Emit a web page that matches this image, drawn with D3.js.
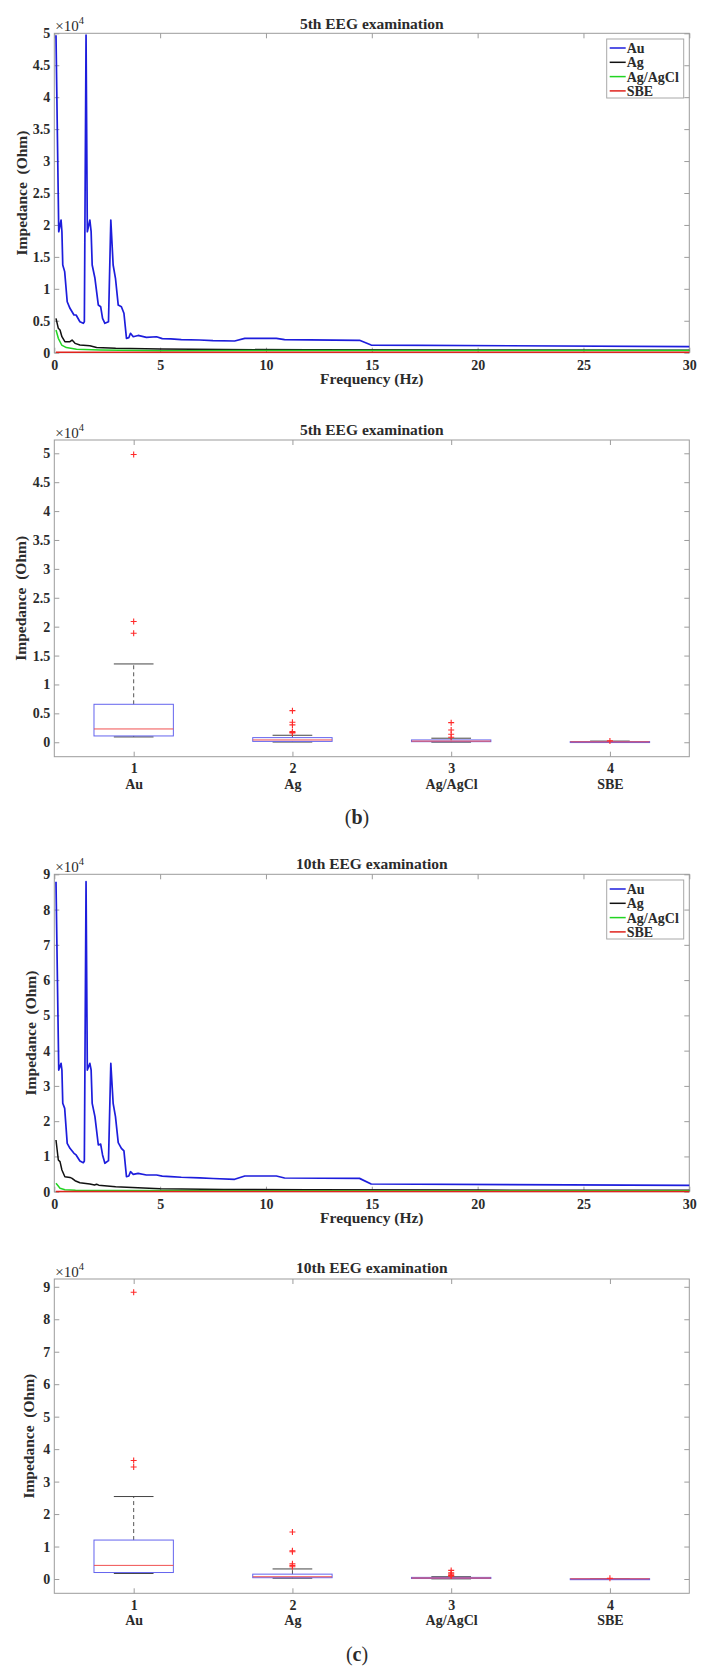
<!DOCTYPE html>
<html>
<head>
<meta charset="utf-8">
<script src="https://cdn.jsdelivr.net/npm/d3@7"></script>
<style>
body { margin: 0; background: #fff; }
svg text { font-family: "Liberation Serif", "DejaVu Serif", serif; fill: #2b2b2b; }
.tick text { font-weight: bold; font-size: 14px; }
.title { font-weight: bold; font-size: 15.5px; }
.label { font-weight: bold; font-size: 15.5px; }
.legend text { font-weight: bold; font-size: 14px; }
</style>
</head>
<body>
<svg id="fig" width="705" height="1672"></svg>
<script>
var names  = ['Au', 'Ag', 'Ag/AgCl', 'SBE'];
var colors = ['#1d1ddc', '#111111', '#22d422', '#e0231d'];
var freqTicks = [0, 5, 10, 15, 20, 25, 30];

/* 5th examination: impedance vs frequency */
var au5F = [0.08, 0.21, 0.32, 0.36, 0.40, 0.49, 0.61, 0.74, 0.93, 1.03, 1.21, 1.37, 1.42, 1.50, 1.56, 1.68, 1.74, 1.79, 1.92, 2.08, 2.19, 2.28, 2.39, 2.56, 2.67, 2.78, 2.89, 3.02, 3.17, 3.29, 3.41, 3.52, 3.60, 3.73, 3.96, 4.35, 4.83, 5.10, 5.5, 6.0, 6.87, 7.5, 8.52, 9.0, 10.49, 10.88, 14.42, 14.97, 30];
var au5  = [49700, 18940, 20770, 18940, 13730, 12690, 7980, 6950, 5900, 5900, 4850, 4600, 4850, 49700, 18940, 20770, 18940, 13730, 11650, 7460, 7200, 5380, 4600, 4850, 20770, 13730, 11650, 7460, 7200, 6170, 2250, 2350, 3040, 2500, 2700, 2400, 2500, 2200, 2150, 2050, 1990, 1900, 1830, 2250, 2250, 2040, 1940, 1200, 940];
var ag5F = [0.08, 0.19, 0.27, 0.36, 0.50, 0.74, 0.84, 0.98, 1.21, 1.68, 2.0, 2.9, 5.0, 8, 12, 20, 30];
var ag5  = [5380, 3820, 3560, 2500, 1720, 1720, 1980, 1460, 1200, 1100, 800, 680, 580, 500, 450, 420, 400];
var agcl5F = [0.08, 0.19, 0.35, 0.57, 1.05, 2.15, 5.0, 10, 20, 30];
var agcl5  = [3550, 2250, 1200, 800, 540, 440, 320, 330, 350, 350];
var sbe5F = [0.08, 5, 15, 30];
var sbe5  = [80, 70, 70, 60];

/* 10th examination: impedance vs frequency */
var au10F = au5F;
var au10  = [87900, 34500, 36400, 34500, 25060, 23640, 13720, 12300, 10890, 10420, 8700, 8230, 8700, 87900, 34500, 36400, 34500, 25060, 21300, 13240, 13500, 10420, 8060, 8800, 36400, 25060, 21300, 13900, 12300, 11560, 4250, 4440, 5670, 4910, 5200, 4730, 4730, 4440, 4300, 4100, 3900, 3750, 3520, 4450, 4450, 3880, 3780, 2180, 1800];
var ag10F = [0.08, 0.19, 0.27, 0.36, 0.50, 0.74, 0.84, 0.98, 1.21, 1.68, 1.9, 2.0, 2.1, 2.9, 5.0, 8, 12, 20, 30];
var ag10  = [14660, 8990, 8520, 6150, 4250, 4060, 3780, 3120, 2550, 2170, 1900, 2100, 1850, 1420, 850, 650, 520, 450, 400];
var agcl10F = [0.08, 0.27, 0.5, 1, 3, 10, 30];
var agcl10  = [2380, 1000, 530, 400, 330, 300, 300];
var sbe10F = [0.08, 30];
var sbe10  = [60, 50];

/* box plot statistics: Au, Ag, Ag/AgCl, SBE */
var q1_5  = [1090, 150, 100, 30];
var med5  = [2300, 400, 200, 70];
var q3_5  = [6570, 800, 400, 120];
var lo5   = [920, 40, 20, 10];
var hi5   = [13550, 1210, 700, 200];
var out5  = [[49800, 20900, 18850], [5470, 3460, 3000, 1850, 1700, 1600], [3390, 2130, 1380, 870], [230]];

var q1_10 = [2000, 400, 150, 30];
var med10 = [4200, 700, 300, 60];
var q3_10 = [12000, 1500, 500, 100];
var lo10  = [1700, 250, 50, 10];
var hi10  = [25400, 3100, 700, 150];
var out10 = [[88300, 36500, 34500], [14500, 8700, 8400, 4700, 4200, 3800], [2650, 1900, 1500, 1100, 900], [200]];

var svg = d3.select('#fig');

function frame(g, x, y, o, xvals, yvals, xfmt, yfmt) {
    var gray = '#9c9c9c';
    g.append('rect')
     .attr('x', o.left).attr('y', o.top)
     .attr('width', o.right - o.left).attr('height', o.bottom - o.top)
     .attr('fill', 'none').attr('stroke', gray);

    var ax = [
        g.append('g').attr('transform', 'translate(0,' + o.bottom + ')')
         .call(d3.axisBottom(x).tickValues(xvals).tickSizeInner(-5).tickSizeOuter(0).tickPadding(o.xpad).tickFormat(xfmt)),
        g.append('g').attr('transform', 'translate(0,' + o.top + ')')
         .call(d3.axisTop(x).tickValues(xvals).tickSizeInner(-5).tickSizeOuter(0).tickFormat('')),
        g.append('g').attr('transform', 'translate(' + o.left + ',0)')
         .call(d3.axisLeft(y).tickValues(yvals).tickSizeInner(-5).tickSizeOuter(0).tickPadding(4).tickFormat(yfmt)),
        g.append('g').attr('transform', 'translate(' + o.right + ',0)')
         .call(d3.axisRight(y).tickValues(yvals).tickSizeInner(-5).tickSizeOuter(0).tickFormat(''))
    ];
    ax.forEach(function (a) {
        a.attr('font-family', null).attr('font-size', null);
        a.select('.domain').remove();
        a.selectAll('.tick line').attr('stroke', gray);
        a.selectAll('.tick text').attr('fill', '#2b2b2b');
    });

    var ex = g.append('text').attr('x', o.left + 1).attr('y', o.top - 2)
              .attr('font-size', 15).attr('fill', '#444');
    ex.append('tspan').text('\u00d710');
    ex.append('tspan').attr('dy', -7).attr('font-size', 10.5).text('4');

    g.append('text').attr('class', 'title')
     .attr('x', (o.left + o.right) / 2).attr('y', o.titleY)
     .attr('text-anchor', 'middle').text(o.title);

    g.append('text').attr('class', 'label')
     .attr('transform', 'translate(' + o.ylabX + ',' + ((o.top + o.bottom) / 2) + ') rotate(-90)')
     .attr('text-anchor', 'middle').attr('dy', '0.35em')
     .text('Impedance\u00a0 (Ohm)');
    return ax;
}

function tenK(d) { return d / 1e4; }

function lineChart(o, series) {
    var g = svg.append('g');
    var x = d3.scaleLinear().domain([0, 30]).range([o.left, o.right]);
    var y = d3.scaleLinear().domain([0, o.ymax]).range([o.bottom, o.top]);
    frame(g, x, y, o, freqTicks, d3.range(0, o.ymax + 1, o.ystep), d3.format('d'), tenK);

    g.append('text').attr('class', 'label')
     .attr('x', (o.left + o.right) / 2).attr('y', o.bottom + 31)
     .attr('text-anchor', 'middle').text('Frequency (Hz)');

    var line = d3.line()
        .x(function (d) { return x(d[0]); })
        .y(function (d) { return y(d[1]); });

    series.forEach(function (s, i) {
        g.append('path')
         .datum(d3.zip(s[0], s[1]))
         .attr('d', line)
         .attr('fill', 'none')
         .attr('stroke', colors[i])
         .attr('stroke-width', i == 0 ? 1.7 : 1.5)
         .attr('stroke-linejoin', 'round');
    });

    var lg = g.append('g').attr('class', 'legend')
              .attr('transform', 'translate(' + o.legX + ',' + o.legY + ')');
    lg.append('rect').attr('width', 77).attr('height', 59)
      .attr('fill', '#fff').attr('stroke', '#a8a8a8');
    names.forEach(function (n, i) {
        var cy = 9 + i * 14.3;
        lg.append('line').attr('x1', 3).attr('x2', 19).attr('y1', cy).attr('y2', cy)
          .attr('stroke', colors[i]).attr('stroke-width', 1.5);
        lg.append('text').attr('x', 20).attr('y', cy + 5).text(n);
    });
}

function boxChart(o, q1, med, q3, lo, hi, out) {
    var g = svg.append('g');
    var x = d3.scaleLinear().domain([0.5, 4.5]).range([o.left, o.right]);
    var y = d3.scaleLinear().domain([o.ymin, o.ymax]).range([o.bottom, o.top]);
    var ax = frame(g, x, y, o, [1, 2, 3, 4], d3.range(0, o.ytop + 1, o.ystep), d3.format('d'), tenK);

    ax[0].selectAll('.tick').append('text')
         .attr('y', o.xpad2).attr('fill', '#2b2b2b')
         .text(function (d) { return names[d - 1]; });

    names.forEach(function (n, i) {
        var c = i + 1;
        var b = g.append('g');
        // whiskers with caps
        [[q3[i], hi[i]], [q1[i], lo[i]]].forEach(function (w) {
            b.append('line').attr('x1', x(c)).attr('x2', x(c))
             .attr('y1', y(w[0])).attr('y2', y(w[1]))
             .attr('stroke', '#555').attr('stroke-dasharray', '4,3');
            b.append('line').attr('x1', x(c - 0.125)).attr('x2', x(c + 0.125))
             .attr('y1', y(w[1])).attr('y2', y(w[1]))
             .attr('stroke', '#444');
        });
        b.append('rect')
         .attr('x', x(c - 0.25)).attr('width', x(c + 0.25) - x(c - 0.25))
         .attr('y', y(q3[i])).attr('height', Math.max(1, y(q1[i]) - y(q3[i])))
         .attr('fill', 'none').attr('stroke', '#6464ee');
        b.append('line').attr('x1', x(c - 0.25)).attr('x2', x(c + 0.25))
         .attr('y1', y(med[i])).attr('y2', y(med[i]))
         .attr('stroke', '#f05050');
        b.selectAll('path.out').data(out[i]).enter().append('path')
         .attr('class', 'out')
         .attr('d', function (v) {
             var px = x(c), py = y(v);
             return 'M' + (px - 3) + ',' + py + 'H' + (px + 3) + 'M' + px + ',' + (py - 3) + 'V' + (py + 3);
         })
         .attr('stroke', '#ff2a2a').attr('stroke-width', 1.1);
    });

    g.append('text').attr('x', 357).attr('y', o.capY).attr('text-anchor', 'middle')
     .attr('font-size', 20).attr('fill', '#111')
     .html('(<tspan font-weight="bold">' + o.cap + '</tspan>)');
}

lineChart({left: 54.3, right: 689.3, top: 33.3, bottom: 352.7, ymax: 50000, ystep: 5000,
           title: '5th EEG examination', titleY: 29, ylabX: 21.5, xpad: 7, legX: 606.7, legY: 39},
          [[au5F, au5], [ag5F, ag5], [agcl5F, agcl5], [sbe5F, sbe5]]);

boxChart({left: 54.3, right: 689.3, top: 440, bottom: 756.7, ymin: -2500, ymax: 52300, ytop: 50000, ystep: 5000,
          title: '5th EEG examination', titleY: 435, ylabX: 21, xpad: 6.5, xpad2: 32.5, cap: 'b', capY: 824},
         q1_5, med5, q3_5, lo5, hi5, out5);

lineChart({left: 54.3, right: 689.3, top: 874.3, bottom: 1191.7, ymax: 90000, ystep: 10000,
           title: '10th EEG examination', titleY: 869, ylabX: 31, xpad: 7, legX: 606.7, legY: 880},
          [[au10F, au10], [ag10F, ag10], [agcl10F, agcl10], [sbe10F, sbe10]]);

boxChart({left: 54.3, right: 689.3, top: 1279, bottom: 1593.3, ymin: -4400, ymax: 92400, ytop: 90000, ystep: 10000,
          title: '10th EEG examination', titleY: 1273, ylabX: 29, xpad: 6.5, xpad2: 32, cap: 'c', capY: 1661},
         q1_10, med10, q3_10, lo10, hi10, out10);
</script>
</body>
</html>
